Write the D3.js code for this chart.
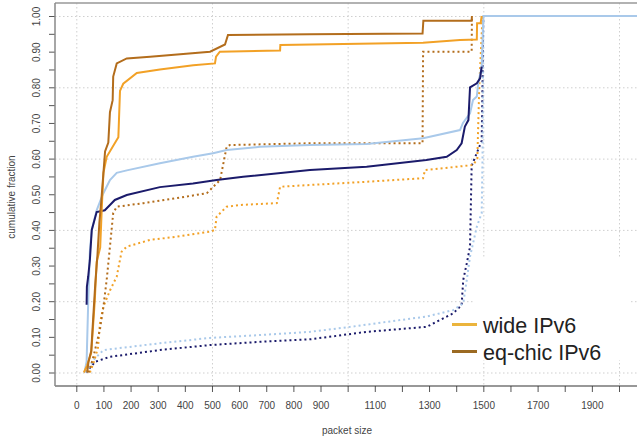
<!DOCTYPE html>
<html>
<head>
<meta charset="utf-8">
<script src="https://cdn.jsdelivr.net/npm/d3@7"></script>
<style>
  html, body { margin: 0; padding: 0; background: #fff; }
  svg { display: block; }
</style>
</head>
<body>
<svg id="chart" width="637" height="439"></svg>
<script>
// Packet size CDFs — solid and dotted variants of four traces.
const W = 637, H = 439;

// [packet size, cumulative fraction]
const wideSolid = [[28,0],[40,0.02],[55,0.055],[60,0.11],[68,0.2],[75,0.31],[88,0.35],[95,0.48],[100,0.56],[112,0.605],[155,0.66],[161,0.79],[173,0.81],[223,0.84],[308,0.85],[431,0.862],[511,0.867],[515,0.886],[529,0.9],[751,0.903],[752,0.919],[1278,0.925],[1414,0.933],[1476,0.934],[1477,0.98],[1490,0.98],[1494,1.0]];
const eqSolid = [[40,0],[45,0.03],[55,0.06],[62,0.15],[70,0.25],[78,0.33],[85,0.42],[92,0.48],[106,0.62],[118,0.645],[124,0.73],[134,0.764],[136,0.83],[149,0.867],[186,0.881],[272,0.886],[493,0.9],[548,0.92],[559,0.947],[861,0.949],[1276,0.951],[1279,0.987],[1457,0.987],[1458,1.0]];
const blueSolid = [[30,0],[38,0.03],[44,0.2],[50,0.34],[57,0.4],[75,0.455],[98,0.5],[124,0.54],[149,0.56],[186,0.567],[308,0.587],[430,0.605],[504,0.615],[554,0.624],[677,0.633],[861,0.638],[1070,0.641],[1278,0.657],[1414,0.68],[1425,0.7],[1451,0.727],[1462,0.764],[1476,0.774],[1481,0.81],[1494,0.858],[1500,1.0],[2300,1.0]];
const navySolid = [[38,0.19],[39,0.24],[44,0.27],[50,0.315],[57,0.4],[75,0.45],[105,0.455],[124,0.47],[142,0.484],[186,0.498],[308,0.52],[430,0.53],[517,0.54],[615,0.549],[861,0.568],[1070,0.577],[1290,0.596],[1365,0.605],[1402,0.624],[1420,0.643],[1432,0.69],[1445,0.708],[1451,0.8],[1476,0.811],[1488,0.825],[1494,0.858]];

const wideDotted = [[50,0],[65,0.03],[80,0.07],[87,0.138],[100,0.185],[124,0.23],[149,0.269],[161,0.316],[167,0.339],[186,0.353],[272,0.372],[370,0.381],[493,0.395],[511,0.4],[517,0.437],[554,0.465],[603,0.47],[739,0.475],[751,0.521],[861,0.526],[1070,0.535],[1278,0.545],[1285,0.568],[1463,0.582],[1478,0.6],[1485,0.8],[1497,1.0]];
const eqDotted = [[45,0],[60,0.035],[87,0.12],[100,0.185],[112,0.26],[124,0.353],[136,0.447],[149,0.465],[247,0.475],[370,0.489],[481,0.503],[505,0.521],[530,0.54],[554,0.633],[566,0.638],[861,0.643],[1276,0.643],[1278,0.9],[1457,0.9],[1458,1.0]];
const blueDotted = [[36,0],[63,0.035],[100,0.063],[308,0.082],[493,0.097],[677,0.105],[861,0.114],[1009,0.128],[1291,0.157],[1389,0.175],[1426,0.194],[1439,0.26],[1451,0.325],[1476,0.409],[1494,0.447],[1497,0.6],[1500,1.0]];
const navyDotted = [[36,0],[69,0.03],[124,0.044],[308,0.063],[493,0.077],[677,0.086],[861,0.093],[1070,0.114],[1291,0.128],[1389,0.166],[1420,0.189],[1426,0.26],[1439,0.306],[1451,0.353],[1457,0.58],[1494,0.65],[1497,0.81],[1500,1.0]];

const xTickValues = d3.range(0, 2001, 100);
const xTickLabels = [0, 100, 200, 300, 400, 500, 600, 700, 800, 900, 1100, 1300, 1500, 1700, 1900];
const yTickValues = d3.range(0, 21).map((i) => i / 20);
const yTickLabels = ["0.00", "0.10", "0.20", "0.30", "0.40", "0.50", "0.60", "0.70", "0.80", "0.90", "1.00"];
const gridX = [0, 500, 1000, 1500, 2000];
const gridY = [0, 0.2, 0.4, 0.6, 0.8, 1.0];

const legendNames = ["wide IPv6", "eq-chic IPv6"];

const C_WIDE = "#f2a126", C_EQ = "#b36d1c", C_BLUE = "#a9c9ea", C_NAVY = "#1b1b6b";

const BOX_L = 55, BOX_T = 3, BOX_B = 386;
const x = d3.scaleLinear().domain([0, 2000]).range([76.3, 619]);
const y = d3.scaleLinear().domain([0, 1]).range([372.5, 16]);

const svg = d3.select("#chart");
const FONT = "'Liberation Sans', Arial, Helvetica, sans-serif";

svg.append("defs").append("clipPath").attr("id", "plot")
  .append("rect").attr("x", BOX_L).attr("y", BOX_T).attr("width", W - BOX_L).attr("height", BOX_B - BOX_T);

// grid
const grid = svg.append("g").attr("stroke", "#cfcfcf").attr("stroke-width", 1).attr("stroke-dasharray", "1.5,2.5");
grid.selectAll("line.gx").data(gridX).enter().append("line")
  .attr("x1", (d) => x(d) + 0.5).attr("x2", (d) => x(d) + 0.5).attr("y1", BOX_T).attr("y2", BOX_B);
grid.selectAll("line.gy").data(gridY).enter().append("line")
  .attr("x1", BOX_L).attr("x2", W).attr("y1", (d) => y(d) + 0.5).attr("y2", (d) => y(d) + 0.5);

// legend background hides the grid under it
svg.append("rect").attr("x", 474).attr("y", 257).attr("width", 156).attr("height", 103).attr("fill", "#fff");

const line = d3.line().x((d) => x(d[0])).y((d) => y(d[1])).curve(d3.curveLinear);
const plot = svg.append("g").attr("clip-path", "url(#plot)").attr("fill", "none");

const series = [
  { data: navyDotted, color: C_NAVY, dash: "2,3" },
  { data: blueDotted, color: C_BLUE, dash: "2,3" },
  { data: wideDotted, color: C_WIDE, dash: "2,3" },
  { data: eqDotted, color: C_EQ, dash: "2,3" },
  { data: blueSolid, color: C_BLUE, dash: null },
  { data: navySolid, color: C_NAVY, dash: null },
  { data: wideSolid, color: C_WIDE, dash: null },
  { data: eqSolid, color: C_EQ, dash: null },
];
series.forEach((s) => {
  plot.append("path").attr("d", line(s.data))
    .attr("stroke", s.color).attr("stroke-width", 2)
    .attr("stroke-dasharray", s.dash)
    .attr("stroke-linejoin", "miter");
});

// frame
svg.append("line").attr("x1", BOX_L).attr("x2", W).attr("y1", BOX_T).attr("y2", BOX_T)
  .attr("stroke", "#999").attr("stroke-width", 1.5);

// axes
const xAxis = d3.axisBottom(x).tickValues(xTickValues).tickSize(6).tickSizeOuter(0)
  .tickFormat((d) => xTickLabels.includes(d) ? String(d) : "");
const gx = svg.append("g").attr("transform", `translate(0,${BOX_B})`).call(xAxis);
gx.select(".domain").remove();
gx.selectAll(".tick line").attr("stroke", "#555");
gx.selectAll("text").attr("dy", null).attr("y", 23)
  .style("font", `10px ${FONT}`).style("fill", "#444");
svg.append("line").attr("x1", BOX_L).attr("x2", W).attr("y1", BOX_B).attr("y2", BOX_B)
  .attr("stroke", "#333").attr("stroke-width", 1.2);

const yAxis = d3.axisLeft(y).tickValues(yTickValues).tickSize(6).tickSizeOuter(0)
  .tickFormat((d) => { const s = d.toFixed(2); return yTickLabels.includes(s) && Math.round(d * 20) % 2 === 0 ? s : ""; });
const gy = svg.append("g").attr("transform", `translate(${BOX_L},0)`).call(yAxis);
gy.select(".domain").remove();
gy.selectAll(".tick line").attr("stroke", "#555");
gy.selectAll("text").attr("x", null).attr("dy", null)
  .attr("transform", "translate(-18,0) rotate(-90)")
  .attr("text-anchor", "middle").attr("dominant-baseline", "middle")
  .style("font", `10px ${FONT}`).style("fill", "#444");
svg.append("line").attr("x1", BOX_L).attr("x2", BOX_L).attr("y1", BOX_T).attr("y2", BOX_B)
  .attr("stroke", "#888").attr("stroke-width", 1.5);

// axis titles
svg.append("text").attr("x", 347).attr("y", 434).attr("text-anchor", "middle")
  .style("font", `10px ${FONT}`).style("fill", "#444").text("packet size");
svg.append("text").attr("transform", "translate(15,197) rotate(-90)").attr("text-anchor", "middle")
  .style("font", `10px ${FONT}`).style("fill", "#444").text("cumulative fraction");

// legend
const legendColors = ["#ebb43c", "#9b6a22"];
const lg = svg.append("g");
legendNames.forEach((name, i) => {
  const cy = 324.5 + i * 27;
  lg.append("line").attr("x1", 452).attr("x2", 477).attr("y1", cy).attr("y2", cy)
    .attr("stroke", legendColors[i]).attr("stroke-width", 3);
  lg.append("text").attr("x", 483).attr("y", cy + 8.5)
    .style("font", `21.5px ${FONT}`).style("fill", "#222").text(name);
});
</script>
</body>
</html>
